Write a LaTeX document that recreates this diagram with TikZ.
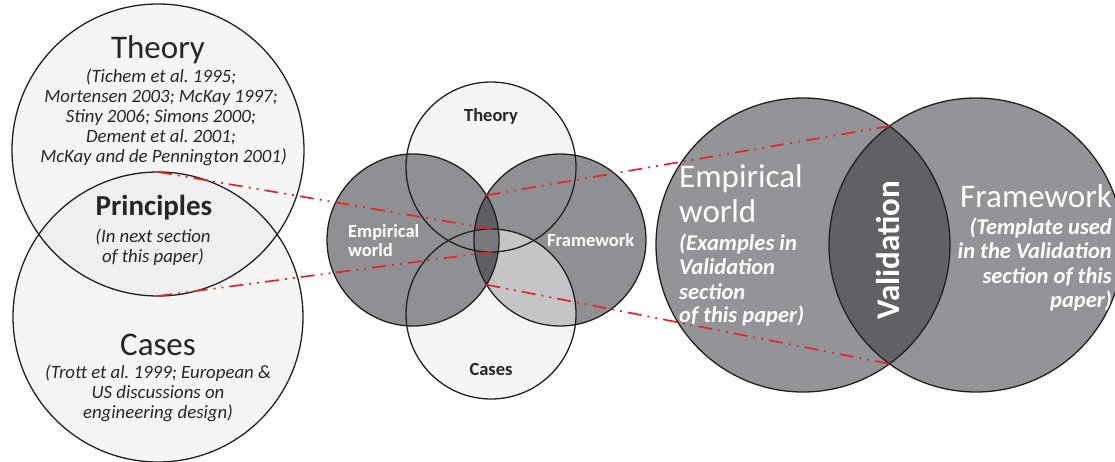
\documentclass[tikz,border=0pt]{standalone}
\usepackage{fontspec}
\setmainfont{Carlito}
\frenchspacing
\definecolor{outl}{HTML}{231F20}
\definecolor{textc}{HTML}{262626}
\definecolor{lightc}{HTML}{F5F5F5}
\definecolor{lensc}{HTML}{EFEFEF}
\definecolor{grayc}{HTML}{8F9093}
\definecolor{lgrayc}{HTML}{C4C5C7}
\definecolor{darkc}{HTML}{5E5F62}
\definecolor{medc}{HTML}{78797C}
\definecolor{grayR}{HTML}{939497}
\definecolor{darkR}{HTML}{5F6164}
\definecolor{redc}{HTML}{E3242B}
\newcommand\tb[5]{{\fontsize{#2}{#3}\selectfont#4\begin{tabular}[t]{@{}#1@{}}#5\end{tabular}}}
\begin{document}
\begin{tikzpicture}[x=1pt,y=-1pt,
  ring/.style={circle, draw=outl, line width=1.3pt, inner sep=0pt, outer sep=0pt},
  redline/.style={draw=redc, line width=1.7pt, dash pattern=on 14pt off 6pt on 2pt off 6pt on 2pt off 6pt},
  txt/.style={inner sep=0pt, anchor=base, text=textc},
  wtxt/.style={inner sep=0pt, text=white}]
\useasboundingbox (0,0) rectangle (1115,462);

% ---------- left diagram ----------
\fill[lightc] (158,150) circle (146pt);
\fill[lightc] (158,317) circle (145pt);
\begin{scope}
  \clip (158,150) circle (146pt);
  \fill[lensc] (158,317) circle (145pt);
\end{scope}
\node[ring, minimum size=292pt] (theoryL) at (158,150) {};
\node[ring, minimum size=290pt] (casesL) at (158,317) {};

\node[txt, font=\fontsize{33}{35}\selectfont] (tTheoryL) at (158,59) {Theory};
\node[txt] (cTheoryL) at (161,83) {\tb{c}{18.8}{20}{\itshape}{(Tichem et al. 1995;\\ Mortensen 2003; McKay 1997;\\ Stiny 2006; Simons 2000;\\ Dement et al. 2001;\\ \hspace*{5pt}McKay and de Pennington 2001)}};
\node[txt, font=\bfseries\fontsize{29}{30}\selectfont] (tPrinc) at (154,215) {Principles};
\node[txt] (cPrinc) at (153,243) {\tb{c}{18.8}{20}{\itshape}{(In next section\\ of this paper)}};
\node[txt, font=\fontsize{33}{35}\selectfont] (tCasesL) at (158,355) {Cases};
\node[txt] (cCasesL) at (158,378) {\tb{c}{18.8}{20}{\itshape}{(Trott et al. 1999; European \&\\ US discussions on\\ engineering design)}};

% ---------- middle diagram ----------
\fill[lightc] (491,167) circle (85pt);
\fill[lightc] (491,314) circle (85pt);
\fill[grayc] (413,240) circle (86pt);
\fill[grayc] (560,240) circle (86pt);
\begin{scope}
  \clip (491,314) circle (85pt);
  \fill[lgrayc] (560,240) circle (86pt);
\end{scope}
\begin{scope}
  \clip (413,240) circle (86pt);
  \fill[darkc] (560,240) circle (86pt);
\end{scope}
\begin{scope}
  \clip (413,240) circle (86pt);
  \clip (560,240) circle (86pt);
  \clip (491,167) circle (85pt);
  \fill[medc] (491,314) circle (85pt);
\end{scope}
\node[ring, minimum size=170pt] (theoryM) at (491,167) {};
\node[ring, minimum size=170pt] (casesM) at (491,314) {};
\node[ring, minimum size=172pt] (empM) at (413,240) {};
\node[ring, minimum size=172pt] (frameM) at (560,240) {};
\coordinate (lensMt) at (486.5,195.3);
\coordinate (lensMb) at (486.5,284.7);

\node[txt, font=\bfseries\fontsize{18.5}{19}\selectfont] (tTheoryM) at (491,122) {Theory};
\node[txt, font=\bfseries\fontsize{18.5}{19}\selectfont] (tCasesM) at (491,375) {Cases};
\node[wtxt, anchor=base west] (tEmpM) at (348,237) {\tb{l}{18.5}{19}{\bfseries}{Empirical\\ world}};
\node[wtxt, anchor=base west, font=\bfseries\fontsize{18.5}{19}\selectfont] (tFrameM) at (547,247) {Framework};

% ---------- right diagram ----------
\fill[grayR] (803,245) circle (147pt);
\fill[grayR] (976,245) circle (147pt);
\begin{scope}
  \clip (803,245) circle (147pt);
  \fill[darkR] (976,245) circle (147pt);
\end{scope}
\node[ring, minimum size=294pt] (empR) at (803,245) {};
\node[ring, minimum size=294pt] (frameR) at (976,245) {};
\coordinate (lensRt) at (889.5,126.1);
\coordinate (lensRb) at (889.5,363.9);

\node[wtxt, anchor=base west] (tEmpR) at (679,188) {\tb{l}{33}{35}{}{Empirical\\ world}};
\node[wtxt, anchor=base west] (cEmpR) at (679,251) {\tb{l}{22.5}{24}{\bfseries\itshape}{(Examples in\\ Validation\\ section\\ of this paper)}};
\node[wtxt, anchor=base east, font=\fontsize{33}{35}\selectfont] (tFrameR) at (1112,208) {Framework};
\node[wtxt, anchor=base east] (cFrameR) at (1112,235) {\tb{r}{22.5}{24}{\bfseries\itshape}{(Template used\\ in the Validation\\ section of this\\ paper)}};
\node[wtxt, rotate=90, font=\bfseries\fontsize{33}{35}\selectfont] (tVal) at (888,250) {Validation};

% ---------- connectors ----------
\draw[redline] (casesL.north) -- (casesM.north);
\draw[redline] (theoryL.south) -- (theoryM.south);
\draw[redline] (lensMt) -- (lensRt);
\draw[redline] (lensMb) -- (lensRb);
\end{tikzpicture}
\end{document}
